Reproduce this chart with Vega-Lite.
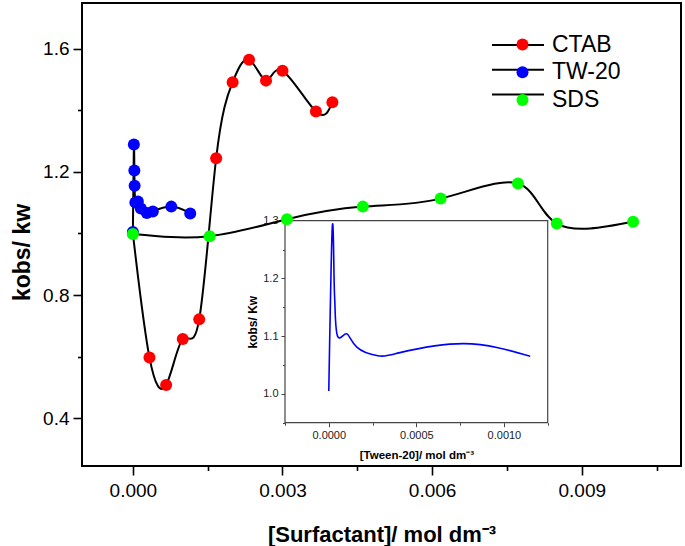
{
  "$schema": "https://vega.github.io/schema/vega-lite/v6.json",
  "width": 599,
  "height": 463,
  "autosize": "none",
  "padding": {"left": 82, "top": 3, "right": 4, "bottom": 80},
  "background": "white",
  "config": {
    "font": "Liberation Sans",
    "view": {"stroke": "black", "strokeWidth": 2},
    "axis": {"grid": false}
  },
  "datasets": {
    "surf": [
      {"series": "CTAB", "conc": 0.0, "ratio": 1.0},
      {"series": "CTAB", "conc": 0.000333, "ratio": 0.597},
      {"series": "CTAB", "conc": 0.000667, "ratio": 0.508},
      {"series": "CTAB", "conc": 0.001, "ratio": 0.657},
      {"series": "CTAB", "conc": 0.00133, "ratio": 0.721},
      {"series": "CTAB", "conc": 0.00167, "ratio": 1.244},
      {"series": "CTAB", "conc": 0.002, "ratio": 1.491},
      {"series": "CTAB", "conc": 0.00233, "ratio": 1.564},
      {"series": "CTAB", "conc": 0.00267, "ratio": 1.496},
      {"series": "CTAB", "conc": 0.003, "ratio": 1.528},
      {"series": "CTAB", "conc": 0.00367, "ratio": 1.396},
      {"series": "CTAB", "conc": 0.004, "ratio": 1.426},
      {"series": "TW-20", "conc": 0.0, "ratio": 1.005},
      {"series": "TW-20", "conc": 0.00002, "ratio": 1.289},
      {"series": "TW-20", "conc": 0.00003, "ratio": 1.204},
      {"series": "TW-20", "conc": 0.000035, "ratio": 1.155},
      {"series": "TW-20", "conc": 0.00005, "ratio": 1.1},
      {"series": "TW-20", "conc": 0.0001, "ratio": 1.104},
      {"series": "TW-20", "conc": 0.00016, "ratio": 1.081},
      {"series": "TW-20", "conc": 0.00028, "ratio": 1.066},
      {"series": "TW-20", "conc": 0.0004, "ratio": 1.071},
      {"series": "TW-20", "conc": 0.00077, "ratio": 1.087},
      {"series": "TW-20", "conc": 0.00115, "ratio": 1.065},
      {"series": "SDS", "conc": 0.0, "ratio": 0.998},
      {"series": "SDS", "conc": 0.00154, "ratio": 0.991},
      {"series": "SDS", "conc": 0.00309, "ratio": 1.046},
      {"series": "SDS", "conc": 0.00461, "ratio": 1.087},
      {"series": "SDS", "conc": 0.00617, "ratio": 1.113},
      {"series": "SDS", "conc": 0.00772, "ratio": 1.162},
      {"series": "SDS", "conc": 0.0085, "ratio": 1.032},
      {"series": "SDS", "conc": 0.01003, "ratio": 1.038}
    ]
  },
  "layer": [
    {
      "layer": [
        {
          "data": {"values": [{}]},
          "mark": {"type": "rect", "fill": "white", "stroke": "#444444", "strokeWidth": 1.2},
          "encoding": {
            "x": {"datum": -0.00025, "type": "quantitative"},
            "x2": {"datum": 0.00125},
            "y": {"datum": 0.95, "type": "quantitative"},
            "y2": {"datum": 1.3}
          }
        },
        {
          "data": {"name": "surf"},
          "transform": [{"filter": "datum.series === 'TW-20'"}],
          "mark": {"type": "line", "color": "#0000ff", "strokeWidth": 1.6, "interpolate": "natural"},
          "encoding": {
            "x": {"field": "conc", "type": "quantitative"},
            "y": {"field": "ratio", "type": "quantitative"}
          }
        }
      ],
      "encoding": {
        "x": {
          "type": "quantitative",
          "scale": {"domain": [-0.00025, 0.00125], "range": [203, 465.7], "nice": false, "zero": false},
          "axis": {
            "orient": "bottom",
            "offset": -43.3,
            "title": "[Tween-20]/ mol dm⁻³",
            "titleFontSize": 11.5,
            "titleFontWeight": "bold",
            "titleColor": "black",
            "titlePadding": 9,
            "values": [-0.00025, 0, 0.00025, 0.0005, 0.00075, 0.001, 0.00125],
            "labelExpr": "abs(datum.value/0.0005 - round(datum.value/0.0005)) < 1e-6 ? format(datum.value, '.4f') : ''",
            "labelFontSize": 11,
            "labelColor": "#222222",
            "labelPadding": 3,
            "labelFlush": false,
            "labelOverlap": false,
            "domain": false,
            "tickColor": "#444444",
            "tickWidth": 1,
            "tickSize": {"condition": {"test": "abs(datum.value/0.0005 - round(datum.value/0.0005)) < 1e-6", "value": 4}, "value": 2.5}
          }
        },
        "y": {
          "type": "quantitative",
          "scale": {"domain": [0.95, 1.3], "range": [419.7, 217.7], "nice": false, "zero": false},
          "axis": {
            "orient": "left",
            "offset": -203,
            "title": "kobs/ Kw",
            "titleFontSize": 12,
            "titleFontWeight": "bold",
            "titleColor": "black",
            "titlePadding": 3,
            "values": [0.95, 1.0, 1.05, 1.1, 1.15, 1.2, 1.25, 1.3],
            "labelExpr": "abs(datum.value/0.1 - round(datum.value/0.1)) < 1e-6 ? format(datum.value, '.1f') : ''",
            "labelFontSize": 11,
            "labelColor": "#222222",
            "labelPadding": 3,
            "labelFlush": false,
            "labelOverlap": false,
            "domain": false,
            "tickColor": "#444444",
            "tickWidth": 1,
            "tickSize": {"condition": {"test": "abs(datum.value/0.1 - round(datum.value/0.1)) < 1e-6", "value": 4}, "value": 2.5}
          }
        }
      }
    },
    {
      "data": {"name": "surf"},
      "layer": [
        {
          "mark": {"type": "line", "interpolate": "natural", "strokeWidth": 2},
          "encoding": {
            "stroke": {
              "field": "series",
              "type": "nominal",
              "scale": {"domain": ["CTAB", "TW-20", "SDS"], "range": ["black", "black", "black"]},
              "legend": {
                "orient": "none",
                "legendX": 429,
                "legendY": 35,
                "title": null,
                "padding": 0,
                "symbolType": "M-4.333,0H4.333",
                "symbolSize": 144,
                "symbolStrokeWidth": 2,
                "labelExpr": "''",
                "labelFontSize": 1,
                "rowPadding": 13.7,
                "zindex": 1
              }
            }
          }
        },
        {
          "mark": {"type": "circle", "size": 144, "opacity": 1},
          "encoding": {
            "fill": {
              "field": "series",
              "type": "nominal",
              "sort": ["CTAB", "TW-20", "SDS"],
              "scale": {"range": ["#ff0000", "#0000ff", "#00ff00"]},
              "legend": {
                "orient": "none",
                "legendX": 429,
                "legendY": 30,
                "title": null,
                "padding": 0,
                "symbolType": "circle",
                "symbolSize": 144,
                "symbolStrokeWidth": 0,
                "symbolOpacity": 1,
                "labelFontSize": 23,
                "labelColor": "black",
                "labelOffset": 18,
                "rowPadding": 3.7,
                "zindex": 2
              }
            }
          }
        }
      ],
      "encoding": {
        "x": {
          "field": "conc",
          "type": "quantitative",
          "scale": {"domain": [-0.00102, 0.01099], "nice": false, "zero": false},
          "axis": {
            "orient": "bottom",
            "title": "[Surfactant]/ mol dm⁻³",
            "titleFontSize": 22,
            "titleFontWeight": "bold",
            "titleColor": "black",
            "titlePadding": 24,
            "values": [0, 0.0015, 0.003, 0.0045, 0.006, 0.0075, 0.009, 0.0105],
            "labelExpr": "abs(datum.value/0.003 - round(datum.value/0.003)) < 1e-6 ? format(datum.value, '.3f') : ''",
            "labelFontSize": 19,
            "labelColor": "black",
            "labelPadding": 6,
            "labelFlush": false,
            "labelOverlap": false,
            "domain": false,
            "tickColor": "black",
            "tickWidth": 1.6,
            "tickSize": {"condition": {"test": "abs(datum.value/0.003 - round(datum.value/0.003)) < 1e-6", "value": 9}, "value": 4.5}
          }
        },
        "y": {
          "field": "ratio",
          "type": "quantitative",
          "scale": {"domain": [0.245, 1.748], "nice": false, "zero": false},
          "axis": {
            "orient": "left",
            "title": "kobs/ kw",
            "titleFontSize": 23,
            "titleFontWeight": "bold",
            "titleColor": "black",
            "titlePadding": 8,
            "titleY": 249,
            "values": [0.4, 0.6, 0.8, 1.0, 1.2, 1.4, 1.6],
            "labelExpr": "abs(datum.value/0.4 - round(datum.value/0.4)) < 1e-6 ? format(datum.value, '.1f') : ''",
            "labelFontSize": 19,
            "labelColor": "black",
            "labelPadding": 4,
            "labelFlush": false,
            "labelOverlap": false,
            "domain": false,
            "tickColor": "black",
            "tickWidth": 1.6,
            "tickSize": {"condition": {"test": "abs(datum.value/0.4 - round(datum.value/0.4)) < 1e-6", "value": 9}, "value": 4.5}
          }
        }
      }
    }
  ],
  "resolve": {
    "scale": {"x": "independent", "y": "independent"},
    "axis": {"x": "independent", "y": "independent"}
  }
}
